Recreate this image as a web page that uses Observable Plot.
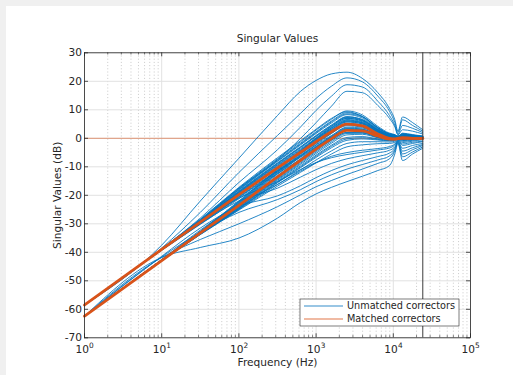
<!DOCTYPE html>
<html><head><meta charset="utf-8">
<script src="https://cdn.jsdelivr.net/npm/d3@7"></script>
<script src="https://cdn.jsdelivr.net/npm/@observablehq/plot@0.6"></script>
<style>
html,body{margin:0;padding:0;background:#f0f0f0;overflow:hidden;}
#fig{position:absolute;left:6px;top:6px;width:507px;height:369px;background:#fff;}
#chart{position:absolute;left:0;top:0;}
</style></head><body>
<div id="fig"></div><div id="chart"></div>
<script>
// frequency grid (Hz)
const freq = [1, 10, 31.62, 100, 316.2, 631, 1000, 1585, 2512, 3981, 6310, 8913, 10470, 11480, 13180, 17780, 24100];

// unmatched correctors (dB) — high-peaking curves
const topCurves = [
  [-58.5,-37.5,-22,-7,8,16.5,20.3,22.6,23.2,21,16,10.5,6.5,2.5,7.5,5.5,3],
  [-58.5,-38.5,-26,-12,1,8.8,14,18.3,21.2,19.8,14.8,9.5,5.5,2,6.5,4.5,2.5],
  [-58.5,-38.8,-28,-15.5,-4,4,9.8,14.8,18.8,18,13,8,4.5,1.5,4.5,3.5,2],
  [-58.5,-39,-29,-17.5,-7.5,0,5.5,11.3,16.5,16,11.5,7,4,1.2,3,2.5,1.5]
];
// unmatched correctors — dense bundle, upper asymptote
const upperBundle = [
  [-58.5,-38.8,-28.5,-17.5,-7.2,-1.2,2.9,6.7,9.6,8.2,4.2,1.8,1.3,0.8,1.8,1.3,0.8],
  [-58.5,-38.7,-28.4,-17.2,-6.8,-0.8,3.2,7.0,9.3,7.6,3.6,1.5,1.1,0.7,1.5,1.1,0.7],
  [-58.5,-38.8,-28.7,-17.8,-7.6,-1.7,2.3,6.1,9.0,7.7,3.8,1.6,1.2,0.7,1.6,1.1,0.7],
  [-58.5,-38.9,-28.8,-18.0,-7.9,-2.0,2.0,5.8,8.6,7.5,3.7,1.5,1.1,0.6,1.5,1.0,0.6],
  [-58.5,-38.9,-28.9,-18.2,-8.1,-2.3,1.7,5.4,8.3,7.1,3.4,1.4,1.0,0.6,1.4,1.0,0.6],
  [-58.5,-38.9,-29.0,-18.5,-8.6,-2.9,1.0,4.7,7.6,6.5,3.0,1.2,0.9,0.5,1.2,0.8,0.5],
  [-58.5,-38.9,-29.0,-18.7,-8.8,-3.1,0.8,4.5,7.3,6.3,2.9,1.1,0.8,0.4,1.1,0.8,0.4],
  [-58.5,-39.0,-29.1,-18.8,-9.0,-3.3,0.6,4.2,7.0,6.0,2.7,1.0,0.8,0.4,1.0,0.7,0.4],
  [-58.5,-39.0,-29.2,-19.0,-9.3,-3.7,0.1,3.7,6.4,5.5,2.4,0.8,0.6,0.3,0.8,0.6,0.3],
  [-58.5,-39.0,-29.2,-19.1,-9.5,-4.0,-0.2,3.3,6.1,5.3,2.3,0.7,0.5,0.3,0.7,0.5,0.3],
  [-58.5,-39.0,-29.3,-19.3,-9.8,-4.3,-0.5,3.0,5.8,5.0,2.1,0.6,0.5,0.2,0.6,0.4,0.2],
  [-58.5,-39.1,-29.4,-19.6,-10.2,-4.7,-1.0,2.5,5.2,4.5,1.8,0.4,0.3,0.1,0.4,0.3,0.1],
  [-58.5,-39.1,-29.5,-19.8,-10.5,-5.0,-1.3,2.1,4.8,4.2,1.6,0.3,0.2,0.1,0.3,0.2,0.1],
  [-58.5,-39.1,-29.6,-20.0,-10.7,-5.3,-1.6,1.8,4.4,3.9,1.4,0.2,0.1,0,0.2,0.1,0],
  [-58.5,-39.2,-29.8,-20.4,-11.3,-6.0,-2.4,1.0,3.6,3.2,1.0,0,0,0,0,0,0],
  [-58.5,-39.2,-29.9,-20.6,-11.5,-6.3,-2.8,0.6,3.2,2.9,0.9,-0.1,-0.1,0,-0.1,0,0],
  [-58.5,-39.2,-30.0,-20.8,-11.8,-6.6,-3.1,0.2,2.8,2.6,0.7,-0.2,-0.2,-0.1,-0.2,-0.1,0],
  [-58.5,-39.3,-30.2,-21.2,-12.4,-7.3,-3.8,-0.6,2.0,1.9,0.3,-0.4,-0.3,-0.1,-0.3,-0.2,-0.1]
];
// unmatched correctors — dense bundle, lower asymptote
const lowerBundle = [
  [-62.4,-42.6,-32.6,-22.0,-10.8,-4.3,0.1,4.2,7.5,6.6,3.2,1.2,0.9,0.5,1.1,0.8,0.5],
  [-62.4,-42.6,-32.7,-22.2,-11.1,-4.6,-0.2,3.8,7.0,6.2,2.9,1.1,0.8,0.4,1.0,0.7,0.4],
  [-62.4,-42.6,-32.8,-22.4,-11.4,-5.0,-0.6,3.5,6.6,5.8,2.7,1.0,0.8,0.4,0.9,0.6,0.4],
  [-62.4,-42.7,-32.9,-22.6,-11.7,-5.4,-1.0,3.0,6.1,5.5,2.5,0.9,0.7,0.3,0.8,0.5,0.3],
  [-62.4,-42.7,-33.0,-22.8,-12.0,-5.7,-1.4,2.6,5.7,5.1,2.3,0.8,0.6,0.3,0.7,0.5,0.3],
  [-62.4,-42.7,-33.1,-23.0,-12.3,-6.1,-1.8,2.1,5.2,4.7,2.0,0.6,0.5,0.2,0.6,0.4,0.2],
  [-62.4,-42.7,-33.1,-23.2,-12.6,-6.4,-2.2,1.7,4.8,4.3,1.8,0.5,0.4,0.2,0.5,0.3,0.2],
  [-62.4,-42.8,-33.2,-23.5,-13.1,-7.1,-3.0,0.8,3.9,3.6,1.4,0.3,0.2,0.1,0.3,0.2,0.1],
  [-62.4,-42.8,-33.3,-23.6,-13.4,-7.4,-3.3,0.5,3.4,3.2,1.2,0.2,0.1,0,0.2,0.1,0],
  [-62.4,-42.8,-33.3,-23.8,-13.6,-7.7,-3.7,0.1,3.0,2.8,1.0,0.1,0.1,0,0.1,0,0],
  [-62.4,-42.9,-33.4,-24.1,-14.1,-8.3,-4.4,-0.7,2.1,2.1,0.6,-0.1,-0.1,0,-0.1,0,0],
  [-62.4,-42.9,-33.5,-24.2,-14.4,-8.7,-4.8,-1.2,1.7,1.8,0.4,-0.2,-0.2,0,-0.2,-0.1,0],
  [-62.4,-42.9,-33.5,-24.4,-14.7,-9.1,-5.3,-1.7,1.2,1.4,0.2,-0.3,-0.3,-0.1,-0.3,-0.1,0],
  [-62.4,-43.0,-33.6,-24.6,-15.1,-9.6,-5.9,-2.4,0.3,0.6,-0.2,-0.6,-0.5,-0.2,-0.5,-0.3,-0.1],
  [-62.4,-43.0,-33.6,-24.7,-15.4,-10.0,-6.3,-2.8,-0.2,0.2,-0.4,-0.8,-0.6,-0.2,-0.6,-0.4,-0.1],
  [-62.4,-43.0,-33.6,-24.8,-15.6,-10.3,-6.7,-3.3,-0.7,-0.2,-0.6,-0.9,-0.7,-0.3,-0.8,-0.5,-0.2],
  [-62.4,-43.0,-33.7,-25.0,-16.2,-11.1,-7.6,-4.4,-1.8,-1.2,-1.2,-1.3,-1.0,-0.4,-1.1,-0.7,-0.3],
  [-62.4,-43.0,-33.8,-25.2,-16.8,-11.9,-8.6,-5.5,-3.0,-2.3,-1.9,-1.8,-1.4,-0.5,-1.5,-1.0,-0.5]
];
// unmatched correctors — low, spread-out curves
const lowerSpread = [
  [-62.4,-41.8,-38.3,-35,-28,-22.5,-19.5,-17.2,-15.2,-13.3,-11.3,-9.6,-5.5,-1.8,-7.8,-5.5,-3.5],
  [-62.4,-41.8,-35.5,-30,-24,-19.8,-17,-14.8,-12.7,-10.8,-8.8,-7.2,-4.5,-1.5,-6.5,-4.8,-3],
  [-62.4,-41.6,-33,-26,-21.5,-18,-15.2,-12.8,-10.8,-9.2,-7.6,-6.2,-4,-1.3,-5.5,-4,-2.5],
  [-62.4,-41.4,-31.5,-23.8,-20.2,-16.6,-13.8,-11.3,-9.3,-7.8,-6.4,-5.2,-3.5,-1.1,-4.5,-3.3,-2.2],
  [-58.5,-39,-30,-22,-17.5,-13.6,-11,-8.8,-7.2,-6.1,-5.1,-4.2,-3,-1,-3.5,-2.5,-1.8],
  [-58.5,-39,-29.6,-21,-15.2,-10.9,-8.5,-6.8,-5.7,-4.9,-4.1,-3.4,-2.3,-0.8,-2.5,-1.8,-1.2],
  [-62.4,-42.6,-32.2,-23.2,-16.2,-11.5,-8.6,-6.3,-5,-4.2,-3.6,-2.9,-2,-0.7,-2,-1.4,-1]
];
// matched correctors (dB)
const matched = [
  [-58.5,-39,-29.4,-19.8,-10.4,-4.9,-1.2,2.3,5.0,4.4,1.5,0,-0.2,0,0.2,0,0],
  [-62.4,-42.9,-33.2,-23.5,-13.5,-7.7,-3.8,-0.1,2.8,2.6,0.8,-0.3,-0.3,-0.1,0,0,0]
];
const matchedFlatFreq = [1, 24100];
const matchedFlat = [0, 0];
const nyquist = [24100];

// axes
const xMajor = [1, 10, 100, 1000, 10000, 100000];
const xExponent = ["0", "1", "2", "3", "4", "5"];
const xMinor = [];
for (const d of [1, 10, 100, 1000, 10000]) for (const m of [2,3,4,5,6,7,8,9]) xMinor.push(d*m);
const yTicks = [-70, -60, -50, -40, -30, -20, -10, 0, 10, 20, 30];
const title = "Singular Values";
const xLabel = "Frequency (Hz)";
const yLabel = "Singular Values (dB)";
const legendLabels = ["Unmatched correctors", "Matched correctors"];

const toRows = (sets) => {
  const rows = []; let id = 0;
  for (const set of sets) for (const c of set) { c.forEach((v, i) => rows.push({id, f: freq[i], v})); id++; }
  return rows;
};
const blueRows = toRows([topCurves, upperBundle, lowerBundle, lowerSpread]);
const orangeRows = toRows([matched]);
const flatRows = matchedFlatFreq.map((f, i) => ({f, v: matchedFlat[i]}));

const FONT = "DejaVu Sans";
const ink = "#262626";
const PW = 386, PH = 285;
const T = {fill: ink, fontFamily: FONT, fontSize: 10.6};

const plot = Plot.plot({
  width: 513, height: 375,
  marginLeft: 84, marginRight: 43, marginTop: 52.3, marginBottom: 37.7,
  x: {type: "log", domain: [1, 1e5], axis: null},
  y: {domain: [-70, 30], axis: null},
  style: {background: "transparent", fontFamily: FONT, fontSize: "10.6px", color: ink},
  marks: [
    Plot.ruleX(xMinor, {stroke: "#bdbdbd", strokeDasharray: "1,2.2", strokeWidth: 0.8}),
    Plot.ruleX(xMajor, {stroke: "#e2e2e2", strokeWidth: 1}),
    Plot.ruleY(yTicks, {stroke: "#e2e2e2", strokeWidth: 1}),
    Plot.line(flatRows, {x: "f", y: "v", stroke: "#d95319", strokeOpacity: 0.55, strokeWidth: 1}),
    Plot.line(blueRows, {x: "f", y: "v", z: "id", stroke: "#0072bd", strokeWidth: 0.85, curve: "monotone-x"}),
    Plot.line(orangeRows, {x: "f", y: "v", z: "id", stroke: "#d95319", strokeWidth: 2.8, curve: "monotone-x"}),
    Plot.ruleX(nyquist, {stroke: "#3c3c3c", strokeWidth: 1}),
    // ticks
    Plot.ruleX(xMajor, {stroke: ink, strokeWidth: 0.8, insetTop: PH - 4}),
    Plot.ruleX(xMajor, {stroke: ink, strokeWidth: 0.8, insetBottom: PH - 4}),
    Plot.ruleX(xMinor, {stroke: ink, strokeWidth: 0.6, insetTop: PH - 2.2}),
    Plot.ruleX(xMinor, {stroke: ink, strokeWidth: 0.6, insetBottom: PH - 2.2}),
    Plot.ruleY(yTicks, {stroke: ink, strokeWidth: 0.8, insetRight: PW - 4}),
    Plot.ruleY(yTicks, {stroke: ink, strokeWidth: 0.8, insetLeft: PW - 4}),
    Plot.frame({stroke: ink, strokeWidth: 0.8}),
    // tick labels
    Plot.text(yTicks, {x: 1, y: d => d, text: d => String(d), textAnchor: "end", lineAnchor: "middle", dx: -2.5, ...T}),
    Plot.text(xMajor, {x: d => d, y: -70, text: () => "10", textAnchor: "end", lineAnchor: "middle", dx: 4.5, dy: 12, ...T}),
    Plot.text(xMajor, {x: d => d, y: -70, text: (d, i) => xExponent[i], textAnchor: "start", lineAnchor: "middle", dx: 4.6, dy: 7.5, fill: ink, fontFamily: FONT, fontSize: 7.4}),
    // titles
    Plot.text([title], {frameAnchor: "top", text: d => d, textAnchor: "middle", lineAnchor: "middle", dy: -14.5, ...T}),
    Plot.text([xLabel], {frameAnchor: "bottom", text: d => d, textAnchor: "middle", lineAnchor: "middle", dy: 24.8, ...T}),
    Plot.text([yLabel], {frameAnchor: "left", text: d => d, textAnchor: "middle", lineAnchor: "middle", rotate: -90, dx: -27.4, ...T})
  ]
});

// legend
const svg = d3.select(plot);
const lg = svg.append("g").attr("text-anchor", "start");
lg.append("rect").attr("x", 300).attr("y", 299).attr("width", 159).attr("height", 27)
  .attr("fill", "#fff").attr("stroke", ink).attr("stroke-width", 0.6);
const lstyles = [
  {stroke: "#0072bd", op: 0.8, w: 1},
  {stroke: "#d95319", op: 0.4, w: 2.2}
];
legendLabels.forEach((t, i) => {
  const y = 306 + i * 13;
  lg.append("line").attr("x1", 304).attr("x2", 343).attr("y1", y).attr("y2", y)
    .attr("stroke", lstyles[i].stroke).attr("stroke-opacity", lstyles[i].op).attr("stroke-width", lstyles[i].w);
  lg.append("text").attr("x", 347).attr("y", y).attr("dy", "0.35em").attr("text-anchor", "start")
    .attr("font-family", FONT).attr("font-size", 9.7).attr("fill", ink).text(t);
});

document.getElementById("chart").appendChild(plot);
</script>
</body></html>
